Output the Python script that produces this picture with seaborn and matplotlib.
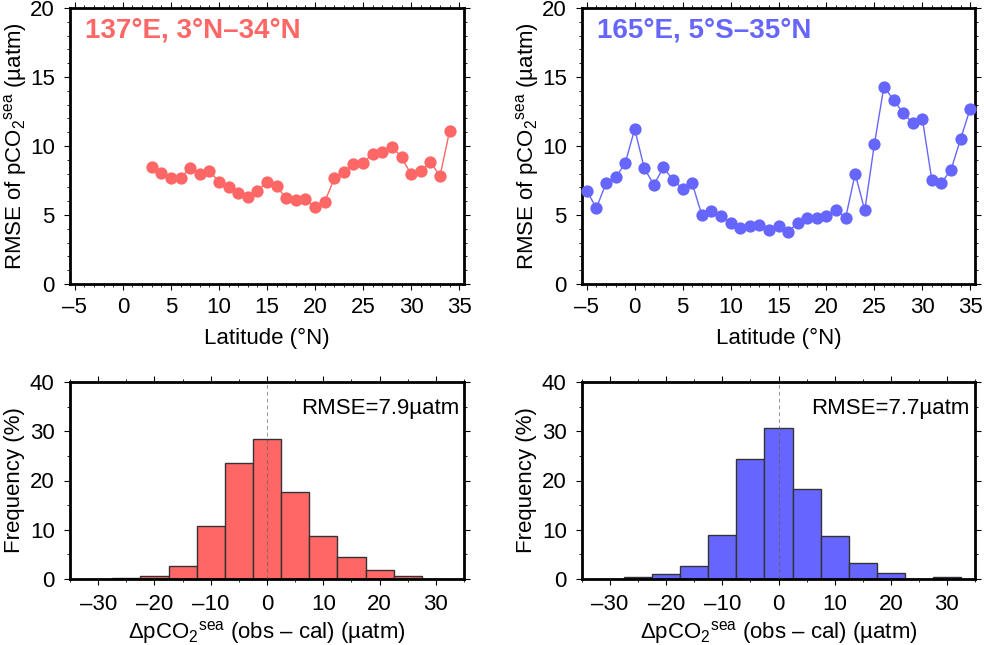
import matplotlib
matplotlib.use('Agg')
import matplotlib.pyplot as plt
import pandas as pd
import seaborn as sns
from matplotlib.ticker import MultipleLocator

lat_137 = list(range(3, 35))
rmse_137 = [8.5, 8.06, 7.65, 7.7, 8.4, 8.0, 8.2, 7.4, 7.0, 6.6, 6.3, 6.75, 7.4, 7.07, 6.2, 6.08,
            6.17, 5.55, 5.95, 7.65, 8.13, 8.7, 8.8, 9.4, 9.55, 9.95, 9.18, 7.94, 8.16, 8.86, 7.8, 11.09]

lat_165 = list(range(-5, 36))
rmse_165 = [6.75, 5.5, 7.29, 7.72, 8.74, 11.23, 8.38, 7.2, 8.45, 7.53, 6.9, 7.29, 5.0, 5.28, 4.92,
            4.43, 4.04, 4.19, 4.31, 3.9, 4.19, 3.78, 4.43, 4.79, 4.79, 4.92, 5.38, 4.79, 7.99, 5.33,
            10.12, 14.31, 13.34, 12.4, 11.65, 11.99, 7.53, 7.34, 8.28, 10.51, 12.71]

bin_centers = [-30, -25, -20, -15, -10, -5, 0, 5, 10, 15, 20, 25, 30]
freq_137 = [0.05, 0.2, 0.7, 2.64, 10.8, 23.6, 28.4, 17.7, 8.8, 4.4, 1.9, 0.6, 0.05]
freq_165 = [0.05, 0.35, 0.95, 2.57, 8.9, 24.3, 30.66, 18.3, 8.8, 3.18, 1.15, 0.1, 0.35]
bin_edges = [-32.5, -27.5, -22.5, -17.5, -12.5, -7.5, -2.5, 2.5, 7.5, 12.5, 17.5, 22.5, 27.5, 32.5]

lat_ticks = [-5, 0, 5, 10, 15, 20, 25, 30, 35]
lat_ticklabels = ['–5', '0', '5', '10', '15', '20', '25', '30', '35']
diff_ticks = [-30, -20, -10, 0, 10, 20, 30]
diff_ticklabels = ['–30', '–20', '–10', '0', '10', '20', '30']

RED = '#ff6666'
BLUE = '#6666ff'

sns.set_theme(style='ticks')
plt.rcParams['font.family'] = ['Liberation Sans', 'DejaVu Sans']
plt.rcParams['mathtext.fontset'] = 'custom'
plt.rcParams['mathtext.rm'] = 'Liberation Sans'
plt.rcParams['mathtext.it'] = 'Liberation Sans'
plt.rcParams['mathtext.default'] = 'regular'
plt.rcParams['text.color'] = 'black'
plt.rcParams['axes.labelcolor'] = 'black'
plt.rcParams['xtick.color'] = 'black'
plt.rcParams['ytick.color'] = 'black'

W, H = 984, 645
fig = plt.figure(figsize=(W / 100, H / 100), dpi=100)


def make_axes(left, top, right, bottom):
    return fig.add_axes([left / W, 1 - bottom / H, (right - left) / W, (bottom - top) / H])


def style_axes(ax, ylab, xlab, xpad, ylab_x):
    for spine in ax.spines.values():
        spine.set_linewidth(2.0)
        spine.set_color('black')
        spine.set_zorder(3)
    ax.tick_params(which='major', direction='out', length=4.5, width=0.8, labelsize=16,
                   top=True, right=True)
    ax.tick_params(axis='y', which='major', pad=6.5)
    ax.tick_params(axis='x', which='major', pad=xpad)
    ax.tick_params(which='minor', direction='out', length=2.5, width=0.6, top=True, right=True)
    ax.set_ylabel(ylab, fontsize=16)
    ax.set_xlabel(xlab, fontsize=16)
    ax.yaxis.set_label_coords(ylab_x, 0.5)


def rmse_panel(box, lat, rmse, color, title):
    ax = make_axes(*box)
    df = pd.DataFrame({'lat': lat, 'rmse': rmse})
    sns.lineplot(data=df, x='lat', y='rmse', color=color, linewidth=1.0, ax=ax, zorder=4)
    sns.scatterplot(data=df, x='lat', y='rmse', color=color, s=78, linewidth=0, ax=ax,
                    clip_on=False, zorder=5)
    ax.set_xlim(-5.5, 35.5)
    ax.set_ylim(0, 20)
    ax.set_xticks(lat_ticks, lat_ticklabels)
    ax.set_yticks([0, 5, 10, 15, 20])
    ax.xaxis.set_minor_locator(MultipleLocator(1))
    ax.yaxis.set_minor_locator(MultipleLocator(1))
    style_axes(ax, r'RMSE of pCO$_2$$^{sea}$$\ $(µatm)', 'Latitude (°N)', 5, -0.105)
    ax.xaxis.labelpad = 7
    ax.text(0.038, 0.92, title, transform=ax.transAxes, color=color, fontsize=20,
            fontweight='bold', va='center', ha='left')
    return ax


def hist_panel(box, freq, color, note):
    ax = make_axes(*box)
    df = pd.DataFrame({'diff': bin_centers, 'freq': freq})
    sns.histplot(data=df, x='diff', weights='freq', bins=bin_edges, color=color, alpha=1,
                 edgecolor='#333333', linewidth=1.0, ax=ax)
    ax.axvline(0, color='#555555', linewidth=0.7, linestyle=(0, (4, 3)), alpha=0.6, zorder=4)
    ax.set_xlim(-35, 35)
    ax.set_ylim(0, 40)
    ax.set_xticks(diff_ticks, diff_ticklabels)
    ax.set_yticks([0, 10, 20, 30, 40])
    ax.xaxis.set_minor_locator(MultipleLocator(5))
    ax.yaxis.set_minor_locator(MultipleLocator(5))
    style_axes(ax, 'Frequency (%)', r'ΔpCO$_2$$^{sea}$ (obs – cal) (µatm)', 6, -0.115)
    ax.xaxis.labelpad = 3
    ax.text(0.987, 0.868, note, transform=ax.transAxes, fontsize=16, va='center', ha='right')
    return ax


rmse_panel((70, 8, 464, 284), lat_137, rmse_137, RED, '137°E, 3°N–34°N')
rmse_panel((582, 8, 975, 284), lat_165, rmse_165, BLUE, '165°E, 5°S–35°N')
hist_panel((70, 382, 464, 579), freq_137, RED, 'RMSE=7.9µatm')
hist_panel((582, 382, 975, 579), freq_165, BLUE, 'RMSE=7.7µatm')

fig.savefig('out.png', dpi=100)
